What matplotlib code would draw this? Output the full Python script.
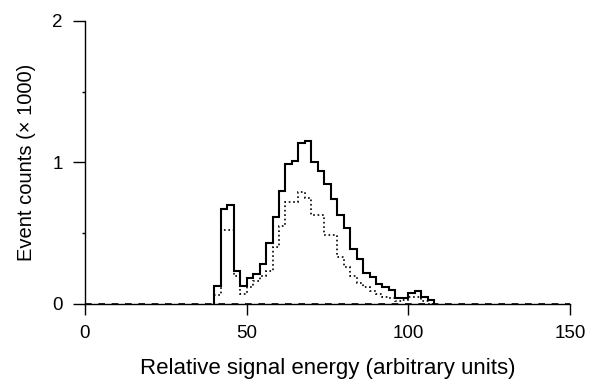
import numpy as np
import matplotlib.pyplot as plt
from matplotlib.ticker import MultipleLocator

plt.rcParams['font.family'] = ['Liberation Sans', 'DejaVu Sans']

# bin edges in signal energy (arbitrary units), width 2
edges = np.arange(40, 110, 2)

# event counts (x 1000), solid histogram
counts_all = [0.13, 0.67, 0.70, 0.23, 0.13, 0.18, 0.21, 0.28, 0.43, 0.615,
              0.80, 0.99, 1.01, 1.14, 1.15, 1.00, 0.94, 0.85, 0.74, 0.63,
              0.54, 0.39, 0.32, 0.22, 0.19, 0.14, 0.12, 0.10, 0.045, 0.045,
              0.08, 0.095, 0.05, 0.025]

# event counts (x 1000), dotted histogram
counts_sel = [0.06, 0.52, 0.52, 0.20, 0.07, 0.12, 0.16, 0.20, 0.23, 0.40,
              0.55, 0.72, 0.72, 0.79, 0.75, 0.63, 0.63, 0.49, 0.49, 0.33,
              0.26, 0.20, 0.15, 0.12, 0.09, 0.07, 0.05, 0.04, 0.02, 0.03,
              0.05, 0.05, 0.02, 0.0]

fig = plt.figure(figsize=(6.04, 3.79), dpi=100)
ax = fig.add_axes([0.1407, 0.198, 0.803, 0.747])

ax.stairs(counts_all, edges, color='black', lw=1.5)
ax.stairs(counts_sel, edges, color='black', lw=1.2, linestyle=':')
ax.axhline(0, color='black', lw=1.2, linestyle=(0, (4, 4)), zorder=3)

ax.set_xlim(0, 150)
ax.set_ylim(0, 2)
ax.set_xticks([0, 50, 100, 150])
ax.set_yticks([0, 1, 2])
ax.yaxis.set_minor_locator(MultipleLocator(0.5))

for s in ['top', 'right']:
    ax.spines[s].set_visible(False)
ax.spines['left'].set_bounds(0, 2)
ax.spines['left'].set_linewidth(1.0)
ax.spines['bottom'].set_linewidth(1.0)

ax.tick_params(axis='x', which='major', direction='out', length=8, width=1.0,
               labelsize=13.5, pad=7)
ax.tick_params(axis='y', which='major', direction='out', length=9, width=1.0,
               labelsize=13.5, pad=7)
ax.tick_params(axis='y', which='minor', direction='out', length=2.5, width=1.0)

ax.set_xlabel('Relative signal energy (arbitrary units)', fontsize=16, labelpad=12)
ax.set_ylabel('Event counts (\u00d7 1000)', fontsize=14.5, labelpad=12)

fig.savefig('out.png', dpi=100)
